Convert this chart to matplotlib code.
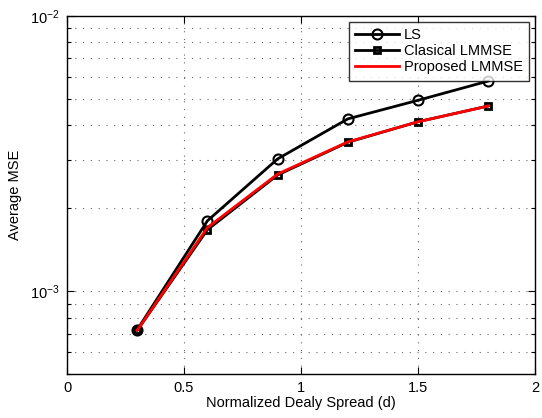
import matplotlib
matplotlib.use("Agg")
import matplotlib.pyplot as plt
from matplotlib.ticker import LogLocator, NullFormatter, FixedLocator

plt.rcParams['font.family'] = ['Liberation Sans', 'DejaVu Sans']

d = [0.3, 0.6, 0.9, 1.2, 1.5, 1.8]
ls_mse = [7.24e-4, 1.80e-3, 3.02e-3, 4.22e-3, 4.93e-3, 5.79e-3]
classical_mse = [7.20e-4, 1.67e-3, 2.64e-3, 3.47e-3, 4.12e-3, 4.70e-3]
proposed_mse = [7.20e-4, 1.70e-3, 2.66e-3, 3.48e-3, 4.12e-3, 4.70e-3]
xticks = [0, 0.5, 1, 1.5, 2]
xticklabels = ['0', '0.5', '1', '1.5', '2']

fig = plt.figure(figsize=(5.42, 4.18), dpi=100)
ax = fig.add_axes([67/542, 1-374/418, (535-67)/542, (374-15.7)/418])

ax.plot(d, ls_mse, color='black', lw=2, marker='o', ms=7.2, mfc='none', mec='black', mew=1.5, label='LS')
ax.plot(d, classical_mse, color='black', lw=2, marker='s', ms=4.5, mfc='none', mec='black', mew=2.0, label='Clasical LMMSE')
ax.plot(d, proposed_mse, color='#ff0000', lw=2, label='Proposed LMMSE')

ax.set_yscale('log')
ax.set_xlim(0, 2)
ax.set_ylim(5e-4, 1e-2)
ax.xaxis.set_major_locator(FixedLocator(xticks))
ax.set_xticklabels(xticklabels)
ax.yaxis.set_major_locator(LogLocator(base=10))
ax.yaxis.set_minor_locator(LogLocator(base=10, subs=range(2, 10)))
ax.yaxis.set_minor_formatter(NullFormatter())

ax.grid(True, which='major', linestyle=(0, (1, 6)), color='#666666', lw=0.8)
ax.grid(True, which='minor', axis='y', linestyle=(0, (1, 6)), color='#666666', lw=0.8)

ax.tick_params(which='both', direction='in', top=True, right=True, labelsize=10.5, width=0.8)
ax.tick_params(which='major', length=5, pad=5)
ax.tick_params(which='minor', length=3)
for s in ax.spines.values():
    s.set_linewidth(1.0)

ax.set_xlabel('Normalized Dealy Spread (d)', fontsize=10.5, labelpad=1)
ax.set_ylabel('Average MSE', fontsize=10.5, labelpad=6)

leg = ax.legend(loc='upper right', fontsize=10.5, frameon=True, fancybox=False,
                edgecolor='black', handlelength=3.0, borderaxespad=0.4,
                labelspacing=0.15, handletextpad=0.3, borderpad=0.45)
leg.get_frame().set_linewidth(1.0)

fig.savefig('out.png', dpi=100)
